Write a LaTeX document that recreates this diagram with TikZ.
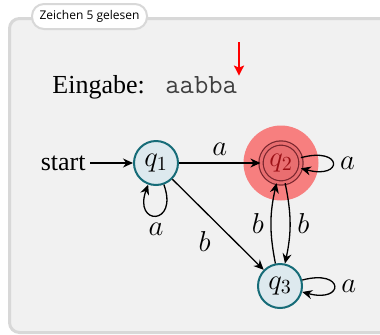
\documentclass[tikz,border=0pt]{standalone}
\usepackage{fontspec}
\setmainfont{Liberation Serif}
\newfontfamily\reiterfont{Open Sans}
\usetikzlibrary{arrows.meta,positioning}

\definecolor{rahmenrand}{RGB}{216,216,216}
\definecolor{rahmenfill}{RGB}{241,241,241}
\definecolor{zustandrand}{RGB}{22,108,120}
\definecolor{zustandfill}{RGB}{221,233,238}
\definecolor{halorot}{RGB}{247,127,127}
\definecolor{endfill}{RGB}{233,110,112}
\definecolor{endrand}{RGB}{122,38,46}
\definecolor{endtext}{RGB}{155,16,22}

\def\gross{\fontsize{14}{16}\selectfont}

\tikzset{
	rahmen/.style={draw=rahmenrand, fill=rahmenfill, line width=1.5pt, rounded corners=5pt},
	reiter/.style={draw=rahmenrand, fill=white, line width=1pt, rounded corners=6pt, minimum width=57.5pt, minimum height=12.5pt, inner sep=0pt, font=\reiterfont\fontsize{6}{7}\selectfont},
	zustand/.style={circle, draw=zustandrand, fill=zustandfill, line width=1pt, minimum size=22pt, inner sep=0pt, font=\gross},
	endzustand/.style={circle, draw=endrand, double=endfill, double distance=1.5pt, line width=0.6pt, fill=endfill, minimum size=20pt, inner sep=0pt, text=endtext, font=\gross},
	kante/.style={-{Stealth[length=5pt,width=4.5pt]}, line width=0.65pt},
	lesepfeil/.style={-{Stealth[length=5pt,width=5pt,inset=1pt]}, line width=1pt, color=red},
	marke/.style={font=\gross}
}

\begin{document}
\begin{tikzpicture}[x=0.5pt, y=0.5pt]
		%%%%% START %%%%%
		
		\useasboundingbox (0, 0) rectangle (380, 334);
		\draw[rahmen] (9.5, 1.5) rectangle (400, 315.5);
		\node[reiter] (reiter) at (89.5, 317.5) {Zeichen 5 gelesen};
		
		\node[anchor=base west, inner sep=0pt, font=\fontsize{13}{15}\selectfont] (eingabe) at (52, 241) {Eingabe:};
		\node[anchor=base west, inner sep=0pt, text=black!75, font=\fontsize{13.9}{16}\ttfamily] (band) at (165, 241) {aabba};
		\coordinate (lese) at (239, 292);
		\draw[lesepfeil] (lese) -- (lese |- band.north);
		
		\fill[halorot] (281, 171) circle (37.5);
		
		\node[zustand] (q1) at (156, 171) {$q_1$};
		\node[endzustand] (q2) at (281, 171) {$q_2$};
		\node[zustand] (q3) at (280, 48) {$q_3$};
		
		\node[anchor=east, inner sep=2pt, font=\fontsize{13}{15}\selectfont] (start) at (90, 171) {start};
		\draw[kante] (start) -- (q1);
		
		\draw[kante] (q1) -- node[marke, above] {$a$} (q2);
		\draw[kante] (q1) -- node[marke, below left] {$b$} (q3);
		\draw[kante] (q2) to[bend left=12] node[marke, right] {$b$} (q3);
		\draw[kante] (q3) to[bend left=12] node[marke, left] {$b$} (q2);
		
		\draw[kante] (q1.-70) .. controls +(-70:22pt) and +(-110:22pt) .. node[marke, below] {$a$} (q1.-110);
		\draw[kante] (q2.15) .. controls +(15:22pt) and +(-15:22pt) .. node[marke, right] {$a$} (q2.-15);
		\draw[kante] (q3.15) .. controls +(15:22pt) and +(-15:22pt) .. node[marke, right] {$a$} (q3.-15);
		
		%%%%% END %%%%%
	\end{tikzpicture}
\end{document}
